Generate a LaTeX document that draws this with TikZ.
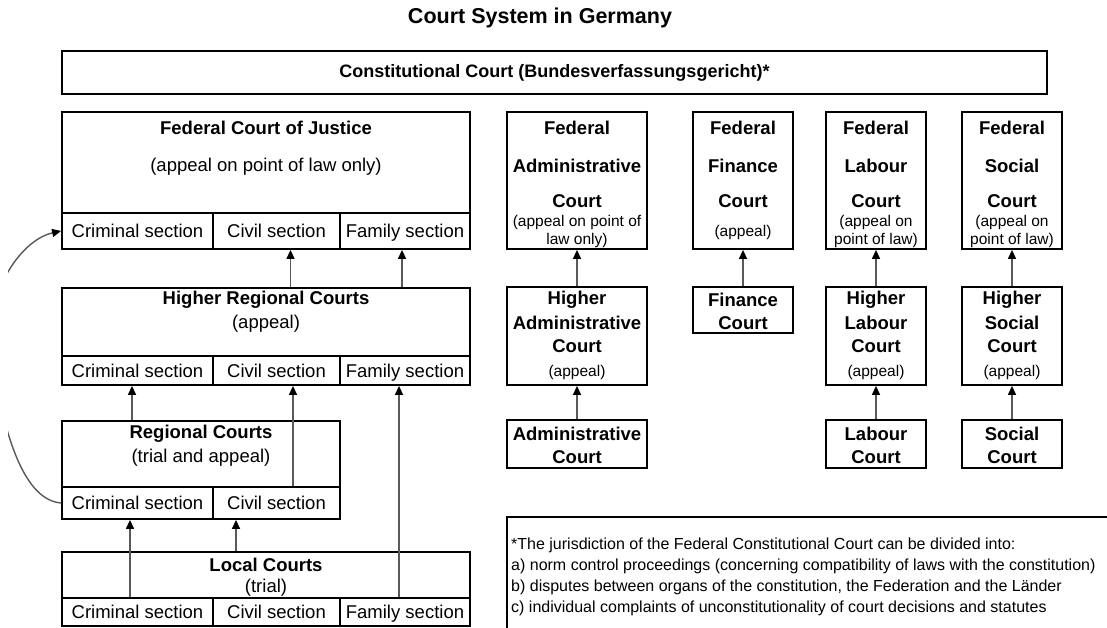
\documentclass[tikz,border=0pt]{standalone}
\usepackage{fontspec}
\setmainfont{Liberation Sans}
\usetikzlibrary{arrows.meta,fit,calc}
\begin{document}
\begin{tikzpicture}[x=1pt,y=-1pt,
  bx/.style={draw=black, line width=1.8pt, inner sep=0pt},
  tt/.style={font=\fontsize{21.5}{24}\selectfont\bfseries, inner sep=0pt},
  tb/.style={font=\fontsize{18.5}{20}\selectfont\bfseries, inner sep=0pt},
  tc/.style={font=\fontsize{18}{20}\selectfont\bfseries, inner sep=0pt},
  tn/.style={font=\fontsize{18.5}{20}\selectfont, inner sep=0pt, text height=17pt, text depth=4pt},
  ts/.style={font=\fontsize{15.5}{17}\selectfont, inner sep=0pt},
  tf/.style={font=\fontsize{16}{18}\selectfont, inner sep=0pt, anchor=west},
  arr/.style={draw=black!65, line width=1.4pt, -{Triangle[length=9pt,width=8pt,color=black]}}]
\clip (0,0) rectangle (1107,628);
\fill[white] (0,0) rectangle (1107,628);
% title
\node[tt] (title) at (540,18) {Court System in Germany};
% constitutional court
\node[bx, fit={(62,51)(1047,94)}] (cc) {};
\node[tc] (cct) at (cc.center) {Constitutional Court (Bundesverfassungsgericht)*};
% Federal Court of Justice
\node[bx, fit={(62,112)(470,249)}] (fcj) {};
\node[tb] (fcjt) at (266,128) {Federal Court of Justice};
\node[tn] (fcjs) at (266,165) {(appeal on point of law only)};
\node[bx, fit={(62,213)(213,249)}] (fcjcr) {};
\node[bx, fit={(213,213)(340,249)}] (fcjcv) {};
\node[bx, fit={(340,213)(470,249)}] (fcjfa) {};
\node[tn] (fcjcrt) at (fcjcr.center) {Criminal section};
\node[tn] (fcjcvt) at (fcjcv.center) {Civil section};
\node[tn] (fcjfat) at (fcjfa.center) {Family section};
% Higher Regional Courts
\node[bx, fit={(62,288)(470,385)}] (hrc) {};
\node[tb] (hrct) at (266,300) {Higher Regional Courts};
\node[tn] (hrcs) at (266,322) {(appeal)};
\node[bx, fit={(62,356)(213,385)}] (hrcr) {};
\node[bx, fit={(213,356)(340,385)}] (hrcv) {};
\node[bx, fit={(340,356)(470,385)}] (hrfa) {};
\node[tn] (hrcrt) at (hrcr.center) {Criminal section};
\node[tn] (hrcvt) at (hrcv.center) {Civil section};
\node[tn] (hrfat) at (hrfa.center) {Family section};
% Regional Courts
\node[bx, fit={(62,421)(340,519)}] (rc) {};
\node[tb] (rct) at (201,434) {Regional Courts};
\node[tn] (rcs) at (201,456) {(trial and appeal)};
\node[bx, fit={(62,487)(213,519)}] (rccr) {};
\node[bx, fit={(213,487)(340,519)}] (rccv) {};
\node[tn] (rccrt) at (rccr.center) {Criminal section};
\node[tn] (rccvt) at (rccv.center) {Civil section};
% Local Courts
\node[bx, fit={(62,552)(470,626)}] (lc) {};
\node[tb] (lct) at (266,565) {Local Courts};
\node[tn] (lcs) at (266,586) {(trial)};
\node[bx, fit={(62,598)(213,626)}] (lccr) {};
\node[bx, fit={(213,598)(340,626)}] (lccv) {};
\node[bx, fit={(340,598)(470,626)}] (lcfa) {};
\node[tn] (lccrt) at (lccr.center) {Criminal section};
\node[tn] (lccvt) at (lccv.center) {Civil section};
\node[tn] (lcfat) at (lcfa.center) {Family section};
% Federal Administrative
\node[bx, fit={(507,112)(647,249)}] (fa) {};
\node[tb] (fa1) at (577,128) {Federal};
\node[tb] (fa2) at (577,166) {Administrative};
\node[tb] (fa3) at (577,201) {Court};
\node[ts] (fa4) at (577,222) {(appeal on point of};
\node[ts] (fa5) at (577,240) {law only)};
% Federal Finance
\node[bx, fit={(693,112)(793,249)}] (ff) {};
\node[tb] (ff1) at (743,128) {Federal};
\node[tb] (ff2) at (743,166) {Finance};
\node[tb] (ff3) at (743,201) {Court};
\node[ts] (ff4) at (743,232) {(appeal)};
% Federal Labour
\node[bx, fit={(826,112)(926,249)}] (fl) {};
\node[tb] (fl1) at (876,128) {Federal};
\node[tb] (fl2) at (876,166) {Labour};
\node[tb] (fl3) at (876,201) {Court};
\node[ts] (fl4) at (876,222) {(appeal on};
\node[ts] (fl5) at (876,240) {point of law)};
% Federal Social
\node[bx, fit={(962,112)(1062,249)}] (fs) {};
\node[tb] (fs1) at (1012,128) {Federal};
\node[tb] (fs2) at (1012,166) {Social};
\node[tb] (fs3) at (1012,201) {Court};
\node[ts] (fs4) at (1012,222) {(appeal on};
\node[ts] (fs5) at (1012,240) {point of law)};
% Higher Administrative
\node[bx, fit={(507,287)(647,385)}] (ha) {};
\node[tb] (ha1) at (577,300) {Higher};
\node[tb] (ha2) at (577,323) {Administrative};
\node[tb] (ha3) at (577,346) {Court};
\node[ts] (ha4) at (577,372) {(appeal)};
% Finance Court
\node[bx, fit={(693,287)(793,333)}] (fc) {};
\node[tb] (fc1) at (743,300) {Finance};
\node[tb] (fc2) at (743,323) {Court};
% Higher Labour
\node[bx, fit={(826,287)(926,385)}] (hl) {};
\node[tb] (hl1) at (876,300) {Higher};
\node[tb] (hl2) at (876,323) {Labour};
\node[tb] (hl3) at (876,346) {Court};
\node[ts] (hl4) at (876,372) {(appeal)};
% Higher Social
\node[bx, fit={(962,287)(1062,385)}] (hs) {};
\node[tb] (hs1) at (1012,300) {Higher};
\node[tb] (hs2) at (1012,323) {Social};
\node[tb] (hs3) at (1012,346) {Court};
\node[ts] (hs4) at (1012,372) {(appeal)};
% Administrative Court
\node[bx, fit={(507,420)(647,468)}] (ac) {};
\node[tb] (ac1) at (577,434) {Administrative};
\node[tb] (ac2) at (577,457) {Court};
% Labour Court
\node[bx, fit={(826,420)(926,468)}] (lac) {};
\node[tb] (lac1) at (876,434) {Labour};
\node[tb] (lac2) at (876,457) {Court};
% Social Court
\node[bx, fit={(962,420)(1062,468)}] (sc) {};
\node[tb] (sc1) at (1012,434) {Social};
\node[tb] (sc2) at (1012,457) {Court};
% footnote
\node[bx, fit={(507,517)(1120,640)}] (fn) {};
\node[tf] (fn1) at (511,545) {*The jurisdiction of the Federal Constitutional Court can be divided into:};
\node[tf] (fn2) at (511,566) {a) norm control proceedings (concerning compatibility of laws with the constitution)};
\node[tf] (fn3) at (511,587) {b) disputes between organs of the constitution, the Federation and the Länder};
\node[tf] (fn4) at (511,608) {c) individual complaints of unconstitutionality of court decisions and statutes};
% arrows right columns
\draw[arr] (ha.north) -- (fa.south);
\draw[arr] (ac.north) -- (ha.south);
\draw[arr] (fc.north) -- (ff.south);
\draw[arr] (hl.north) -- (fl.south);
\draw[arr] (lac.north) -- (hl.south);
\draw[arr] (hs.north) -- (fs.south);
\draw[arr] (sc.north) -- (hs.south);
% arrows left column
\coordinate (a1) at ([xshift=14pt]fcjcv.south);
\draw[arr] (a1 |- hrc.north) -- (a1);
\coordinate (a2) at ([xshift=-3pt]fcjfa.south);
\draw[arr] (a2 |- hrc.north) -- (a2);
\coordinate (a3) at ([xshift=-5.5pt]hrcr.south);
\draw[arr] (a3 |- rc.north) -- (a3);
\coordinate (a4) at ([xshift=16.5pt]hrcv.south);
\draw[arr] (a4 |- rccv.north) -- (a4);
\coordinate (a5) at ([xshift=-6pt]hrfa.south);
\draw[arr] (a5 |- lcfa.north) -- (a5);
\coordinate (a6) at ([xshift=-7.5pt]rccr.south);
\draw[arr] (a6 |- lccr.north) -- (a6);
\coordinate (a7) at ([xshift=-40.5pt]rccv.south);
\draw[arr] (a7 |- lc.north) -- (a7);
% curved arrow on the left
\begin{scope}
\clip (8,0) rectangle (1107,628);
\draw[arr] (rccr.west) .. controls (25,500) and (5,440) .. (-8,360)
  .. controls (-18.4,296) and (20,240) .. (fcjcr.west);
\end{scope}
\end{tikzpicture}
\end{document}
